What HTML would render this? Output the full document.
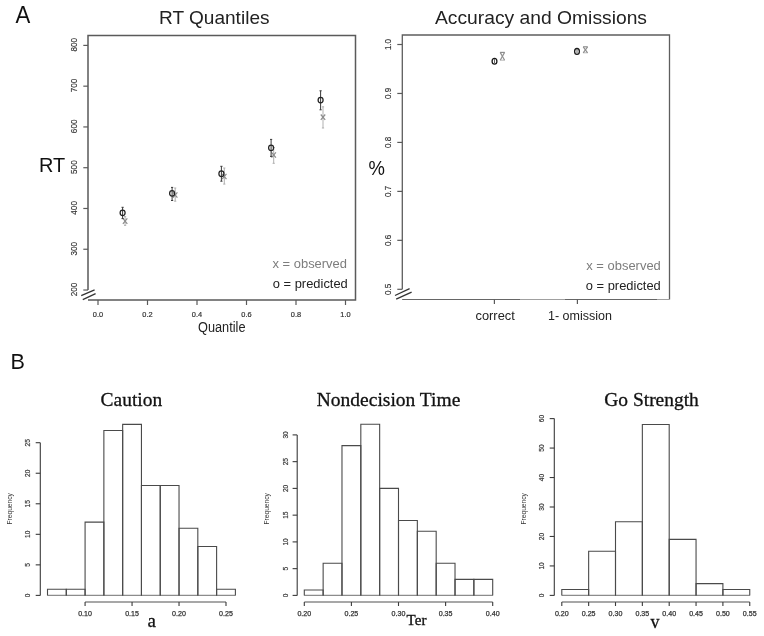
<!DOCTYPE html>
<html><head><meta charset="utf-8"><style>
html,body{margin:0;padding:0;background:#fff;}
body{width:764px;height:636px;overflow:hidden;font-family:"Liberation Sans",sans-serif;}
svg{display:block;will-change:transform;}
</style></head><body>
<svg width="764" height="636" viewBox="0 0 764 636" shape-rendering="geometricPrecision">
<rect width="764" height="636" fill="#fff"/>
<text x="15.40" y="22.80" font-family='"Liberation Sans", sans-serif' font-size="23.2" text-anchor="start" fill="#111" textLength="14.80" lengthAdjust="spacingAndGlyphs" >A</text>
<text x="10.60" y="369.10" font-family='"Liberation Sans", sans-serif' font-size="22.5" text-anchor="start" fill="#111" textLength="14.40" lengthAdjust="spacingAndGlyphs" >B</text>
<path d="M88.0,290 L88.0,35.5 L355.5,35.5 L355.5,300.0 L88.0,300.0" fill="none" stroke="#5a5a5a" stroke-width="1.5"/>
<line x1="83.30" y1="290.02" x2="88.00" y2="290.02" stroke="#5a5a5a" stroke-width="1.2" />
<text x="0" y="0" transform="translate(77.00,289.42) rotate(-90)" font-family='"Liberation Sans", sans-serif' font-size="9.2" text-anchor="middle" fill="#333" textLength="13.60" lengthAdjust="spacingAndGlyphs" stroke="#333" stroke-width="0.15">200</text>
<line x1="83.30" y1="249.25" x2="88.00" y2="249.25" stroke="#5a5a5a" stroke-width="1.2" />
<text x="0" y="0" transform="translate(77.00,248.65) rotate(-90)" font-family='"Liberation Sans", sans-serif' font-size="9.2" text-anchor="middle" fill="#333" textLength="13.60" lengthAdjust="spacingAndGlyphs" stroke="#333" stroke-width="0.15">300</text>
<line x1="83.30" y1="208.48" x2="88.00" y2="208.48" stroke="#5a5a5a" stroke-width="1.2" />
<text x="0" y="0" transform="translate(77.00,207.88) rotate(-90)" font-family='"Liberation Sans", sans-serif' font-size="9.2" text-anchor="middle" fill="#333" textLength="13.60" lengthAdjust="spacingAndGlyphs" stroke="#333" stroke-width="0.15">400</text>
<line x1="83.30" y1="167.71" x2="88.00" y2="167.71" stroke="#5a5a5a" stroke-width="1.2" />
<text x="0" y="0" transform="translate(77.00,167.11) rotate(-90)" font-family='"Liberation Sans", sans-serif' font-size="9.2" text-anchor="middle" fill="#333" textLength="13.60" lengthAdjust="spacingAndGlyphs" stroke="#333" stroke-width="0.15">500</text>
<line x1="83.30" y1="126.94" x2="88.00" y2="126.94" stroke="#5a5a5a" stroke-width="1.2" />
<text x="0" y="0" transform="translate(77.00,126.34) rotate(-90)" font-family='"Liberation Sans", sans-serif' font-size="9.2" text-anchor="middle" fill="#333" textLength="13.60" lengthAdjust="spacingAndGlyphs" stroke="#333" stroke-width="0.15">600</text>
<line x1="83.30" y1="86.17" x2="88.00" y2="86.17" stroke="#5a5a5a" stroke-width="1.2" />
<text x="0" y="0" transform="translate(77.00,85.57) rotate(-90)" font-family='"Liberation Sans", sans-serif' font-size="9.2" text-anchor="middle" fill="#333" textLength="13.60" lengthAdjust="spacingAndGlyphs" stroke="#333" stroke-width="0.15">700</text>
<line x1="83.30" y1="45.40" x2="88.00" y2="45.40" stroke="#5a5a5a" stroke-width="1.2" />
<text x="0" y="0" transform="translate(77.00,44.80) rotate(-90)" font-family='"Liberation Sans", sans-serif' font-size="9.2" text-anchor="middle" fill="#333" textLength="13.60" lengthAdjust="spacingAndGlyphs" stroke="#333" stroke-width="0.15">800</text>
<polygon points="80,296 96,289 97,294 81,301" fill="#fff"/>
<line x1="81.20" y1="295.60" x2="94.60" y2="289.90" stroke="#333" stroke-width="1.3" />
<line x1="82.80" y1="299.60" x2="95.60" y2="293.70" stroke="#333" stroke-width="1.3" />
<line x1="98.00" y1="300.00" x2="98.00" y2="305.00" stroke="#5a5a5a" stroke-width="1.2" />
<text x="98.00" y="317.00" font-family='"Liberation Sans", sans-serif' font-size="7.5" text-anchor="middle" fill="#333" textLength="10.30" lengthAdjust="spacingAndGlyphs" stroke="#333" stroke-width="0.2">0.0</text>
<line x1="147.50" y1="300.00" x2="147.50" y2="305.00" stroke="#5a5a5a" stroke-width="1.2" />
<text x="147.50" y="317.00" font-family='"Liberation Sans", sans-serif' font-size="7.5" text-anchor="middle" fill="#333" textLength="10.30" lengthAdjust="spacingAndGlyphs" stroke="#333" stroke-width="0.2">0.2</text>
<line x1="197.00" y1="300.00" x2="197.00" y2="305.00" stroke="#5a5a5a" stroke-width="1.2" />
<text x="197.00" y="317.00" font-family='"Liberation Sans", sans-serif' font-size="7.5" text-anchor="middle" fill="#333" textLength="10.30" lengthAdjust="spacingAndGlyphs" stroke="#333" stroke-width="0.2">0.4</text>
<line x1="246.50" y1="300.00" x2="246.50" y2="305.00" stroke="#5a5a5a" stroke-width="1.2" />
<text x="246.50" y="317.00" font-family='"Liberation Sans", sans-serif' font-size="7.5" text-anchor="middle" fill="#333" textLength="10.30" lengthAdjust="spacingAndGlyphs" stroke="#333" stroke-width="0.2">0.6</text>
<line x1="296.00" y1="300.00" x2="296.00" y2="305.00" stroke="#5a5a5a" stroke-width="1.2" />
<text x="296.00" y="317.00" font-family='"Liberation Sans", sans-serif' font-size="7.5" text-anchor="middle" fill="#333" textLength="10.30" lengthAdjust="spacingAndGlyphs" stroke="#333" stroke-width="0.2">0.8</text>
<line x1="345.50" y1="300.00" x2="345.50" y2="305.00" stroke="#5a5a5a" stroke-width="1.2" />
<text x="345.50" y="317.00" font-family='"Liberation Sans", sans-serif' font-size="7.5" text-anchor="middle" fill="#333" textLength="10.30" lengthAdjust="spacingAndGlyphs" stroke="#333" stroke-width="0.2">1.0</text>
<text x="198.00" y="331.80" font-family='"Liberation Sans", sans-serif' font-size="13.8" text-anchor="start" fill="#222" textLength="47.50" lengthAdjust="spacingAndGlyphs" >Quantile</text>
<text x="38.90" y="171.90" font-family='"Liberation Sans", sans-serif' font-size="19.5" text-anchor="start" fill="#111" textLength="26.20" lengthAdjust="spacingAndGlyphs" >RT</text>
<text x="159.00" y="23.80" font-family='"Liberation Sans", sans-serif' font-size="19" text-anchor="start" fill="#222" textLength="110.50" lengthAdjust="spacingAndGlyphs" >RT Quantiles</text>
<text x="347.00" y="268.00" font-family='"Liberation Sans", sans-serif' font-size="13.6" text-anchor="end" fill="#7d7d7d" textLength="74.50" lengthAdjust="spacingAndGlyphs" >x = observed</text>
<text x="347.80" y="287.70" font-family='"Liberation Sans", sans-serif' font-size="13.6" text-anchor="end" fill="#222" textLength="75.00" lengthAdjust="spacingAndGlyphs" >o = predicted</text>
<line x1="125.10" y1="216.60" x2="125.10" y2="225.40" stroke="#a8a8a8" stroke-width="0.9" />
<line x1="124.00" y1="216.60" x2="126.20" y2="216.60" stroke="#a8a8a8" stroke-width="0.9" />
<line x1="124.00" y1="225.40" x2="126.20" y2="225.40" stroke="#a8a8a8" stroke-width="0.9" />
<line x1="122.90" y1="218.40" x2="127.30" y2="223.80" stroke="#8c8c8c" stroke-width="1.2" />
<line x1="122.90" y1="223.80" x2="127.30" y2="218.40" stroke="#8c8c8c" stroke-width="1.2" />
<line x1="122.60" y1="207.30" x2="122.60" y2="218.60" stroke="#3a3a3a" stroke-width="1.0" />
<line x1="121.50" y1="207.30" x2="123.70" y2="207.30" stroke="#3a3a3a" stroke-width="1.0" />
<line x1="121.50" y1="218.60" x2="123.70" y2="218.60" stroke="#3a3a3a" stroke-width="1.0" />
<ellipse cx="122.6" cy="212.8" rx="2.5" ry="2.8" fill="none" stroke="#222" stroke-width="1.25"/>
<line x1="175.20" y1="188.00" x2="175.20" y2="201.20" stroke="#a8a8a8" stroke-width="0.9" />
<line x1="174.10" y1="188.00" x2="176.30" y2="188.00" stroke="#a8a8a8" stroke-width="0.9" />
<line x1="174.10" y1="201.20" x2="176.30" y2="201.20" stroke="#a8a8a8" stroke-width="0.9" />
<line x1="173.00" y1="192.30" x2="177.40" y2="197.70" stroke="#8c8c8c" stroke-width="1.2" />
<line x1="173.00" y1="197.70" x2="177.40" y2="192.30" stroke="#8c8c8c" stroke-width="1.2" />
<line x1="172.10" y1="187.40" x2="172.10" y2="200.50" stroke="#3a3a3a" stroke-width="1.0" />
<line x1="171.00" y1="187.40" x2="173.20" y2="187.40" stroke="#3a3a3a" stroke-width="1.0" />
<line x1="171.00" y1="200.50" x2="173.20" y2="200.50" stroke="#3a3a3a" stroke-width="1.0" />
<ellipse cx="172.1" cy="193.3" rx="2.5" ry="2.8" fill="none" stroke="#222" stroke-width="1.25"/>
<line x1="224.30" y1="168.00" x2="224.30" y2="184.10" stroke="#a8a8a8" stroke-width="0.9" />
<line x1="223.20" y1="168.00" x2="225.40" y2="168.00" stroke="#a8a8a8" stroke-width="0.9" />
<line x1="223.20" y1="184.10" x2="225.40" y2="184.10" stroke="#a8a8a8" stroke-width="0.9" />
<line x1="222.10" y1="173.80" x2="226.50" y2="179.20" stroke="#8c8c8c" stroke-width="1.2" />
<line x1="222.10" y1="179.20" x2="226.50" y2="173.80" stroke="#8c8c8c" stroke-width="1.2" />
<line x1="221.40" y1="166.30" x2="221.40" y2="181.20" stroke="#3a3a3a" stroke-width="1.0" />
<line x1="220.30" y1="166.30" x2="222.50" y2="166.30" stroke="#3a3a3a" stroke-width="1.0" />
<line x1="220.30" y1="181.20" x2="222.50" y2="181.20" stroke="#3a3a3a" stroke-width="1.0" />
<ellipse cx="221.4" cy="173.7" rx="2.5" ry="2.8" fill="none" stroke="#222" stroke-width="1.25"/>
<line x1="273.70" y1="147.50" x2="273.70" y2="163.30" stroke="#a8a8a8" stroke-width="0.9" />
<line x1="272.60" y1="147.50" x2="274.80" y2="147.50" stroke="#a8a8a8" stroke-width="0.9" />
<line x1="272.60" y1="163.30" x2="274.80" y2="163.30" stroke="#a8a8a8" stroke-width="0.9" />
<line x1="271.50" y1="152.30" x2="275.90" y2="157.70" stroke="#8c8c8c" stroke-width="1.2" />
<line x1="271.50" y1="157.70" x2="275.90" y2="152.30" stroke="#8c8c8c" stroke-width="1.2" />
<line x1="271.10" y1="139.40" x2="271.10" y2="156.40" stroke="#3a3a3a" stroke-width="1.0" />
<line x1="270.00" y1="139.40" x2="272.20" y2="139.40" stroke="#3a3a3a" stroke-width="1.0" />
<line x1="270.00" y1="156.40" x2="272.20" y2="156.40" stroke="#3a3a3a" stroke-width="1.0" />
<ellipse cx="271.1" cy="147.8" rx="2.5" ry="2.8" fill="none" stroke="#222" stroke-width="1.25"/>
<line x1="323.00" y1="106.80" x2="323.00" y2="128.00" stroke="#a8a8a8" stroke-width="0.9" />
<line x1="321.90" y1="106.80" x2="324.10" y2="106.80" stroke="#a8a8a8" stroke-width="0.9" />
<line x1="321.90" y1="128.00" x2="324.10" y2="128.00" stroke="#a8a8a8" stroke-width="0.9" />
<line x1="320.80" y1="114.50" x2="325.20" y2="119.90" stroke="#8c8c8c" stroke-width="1.2" />
<line x1="320.80" y1="119.90" x2="325.20" y2="114.50" stroke="#8c8c8c" stroke-width="1.2" />
<line x1="320.60" y1="90.80" x2="320.60" y2="109.80" stroke="#3a3a3a" stroke-width="1.0" />
<line x1="319.50" y1="90.80" x2="321.70" y2="90.80" stroke="#3a3a3a" stroke-width="1.0" />
<line x1="319.50" y1="109.80" x2="321.70" y2="109.80" stroke="#3a3a3a" stroke-width="1.0" />
<ellipse cx="320.6" cy="100.1" rx="2.5" ry="2.8" fill="none" stroke="#222" stroke-width="1.25"/>
<path d="M402.3,289.3 L402.3,35.0 L669.5,35.0 L669.5,299.5" fill="none" stroke="#5e5e5e" stroke-width="1.3"/>
<line x1="402.30" y1="299.50" x2="669.50" y2="299.50" stroke="#a0a0a0" stroke-width="1.0" />
<line x1="402.30" y1="299.50" x2="520.00" y2="299.50" stroke="#666" stroke-width="1.2" />
<line x1="565.00" y1="299.50" x2="657.00" y2="299.50" stroke="#666" stroke-width="1.2" />
<line x1="397.30" y1="289.30" x2="402.30" y2="289.30" stroke="#5a5a5a" stroke-width="1.2" />
<text x="0" y="0" transform="translate(391.00,289.30) rotate(-90)" font-family='"Liberation Sans", sans-serif' font-size="9.2" text-anchor="middle" fill="#333" textLength="11.20" lengthAdjust="spacingAndGlyphs" stroke="#333" stroke-width="0.15">0.5</text>
<line x1="397.30" y1="240.34" x2="402.30" y2="240.34" stroke="#5a5a5a" stroke-width="1.2" />
<text x="0" y="0" transform="translate(391.00,240.34) rotate(-90)" font-family='"Liberation Sans", sans-serif' font-size="9.2" text-anchor="middle" fill="#333" textLength="11.20" lengthAdjust="spacingAndGlyphs" stroke="#333" stroke-width="0.15">0.6</text>
<line x1="397.30" y1="191.38" x2="402.30" y2="191.38" stroke="#5a5a5a" stroke-width="1.2" />
<text x="0" y="0" transform="translate(391.00,191.38) rotate(-90)" font-family='"Liberation Sans", sans-serif' font-size="9.2" text-anchor="middle" fill="#333" textLength="11.20" lengthAdjust="spacingAndGlyphs" stroke="#333" stroke-width="0.15">0.7</text>
<line x1="397.30" y1="142.42" x2="402.30" y2="142.42" stroke="#5a5a5a" stroke-width="1.2" />
<text x="0" y="0" transform="translate(391.00,142.42) rotate(-90)" font-family='"Liberation Sans", sans-serif' font-size="9.2" text-anchor="middle" fill="#333" textLength="11.20" lengthAdjust="spacingAndGlyphs" stroke="#333" stroke-width="0.15">0.8</text>
<line x1="397.30" y1="93.46" x2="402.30" y2="93.46" stroke="#5a5a5a" stroke-width="1.2" />
<text x="0" y="0" transform="translate(391.00,93.46) rotate(-90)" font-family='"Liberation Sans", sans-serif' font-size="9.2" text-anchor="middle" fill="#333" textLength="11.20" lengthAdjust="spacingAndGlyphs" stroke="#333" stroke-width="0.15">0.9</text>
<line x1="397.30" y1="44.50" x2="402.30" y2="44.50" stroke="#5a5a5a" stroke-width="1.2" />
<text x="0" y="0" transform="translate(391.00,44.50) rotate(-90)" font-family='"Liberation Sans", sans-serif' font-size="9.2" text-anchor="middle" fill="#333" textLength="11.20" lengthAdjust="spacingAndGlyphs" stroke="#333" stroke-width="0.15">1.0</text>
<polygon points="394,296 410,288 412,293 396,301" fill="#fff"/>
<line x1="395.00" y1="295.50" x2="409.60" y2="288.70" stroke="#333" stroke-width="1.3" />
<line x1="396.20" y1="299.10" x2="411.60" y2="292.20" stroke="#333" stroke-width="1.3" />
<line x1="494.40" y1="299.50" x2="494.40" y2="304.00" stroke="#5a5a5a" stroke-width="1.2" />
<line x1="577.40" y1="299.50" x2="577.40" y2="304.00" stroke="#5a5a5a" stroke-width="1.2" />
<text x="475.50" y="319.70" font-family='"Liberation Sans", sans-serif' font-size="13.6" text-anchor="start" fill="#222" textLength="39.30" lengthAdjust="spacingAndGlyphs" >correct</text>
<text x="548.00" y="319.70" font-family='"Liberation Sans", sans-serif' font-size="13.6" text-anchor="start" fill="#222" textLength="64.00" lengthAdjust="spacingAndGlyphs" >1- omission</text>
<text x="368.40" y="175.00" font-family='"Liberation Sans", sans-serif' font-size="19.8" text-anchor="start" fill="#111" textLength="16.40" lengthAdjust="spacingAndGlyphs" >%</text>
<text x="435.00" y="24.20" font-family='"Liberation Sans", sans-serif' font-size="19" text-anchor="start" fill="#222" textLength="212.00" lengthAdjust="spacingAndGlyphs" >Accuracy and Omissions</text>
<text x="660.80" y="270.20" font-family='"Liberation Sans", sans-serif' font-size="13.6" text-anchor="end" fill="#7d7d7d" textLength="74.50" lengthAdjust="spacingAndGlyphs" >x = observed</text>
<text x="660.80" y="289.90" font-family='"Liberation Sans", sans-serif' font-size="13.6" text-anchor="end" fill="#222" textLength="75.00" lengthAdjust="spacingAndGlyphs" >o = predicted</text>
<line x1="500.10" y1="52.40" x2="504.70" y2="52.40" stroke="#8e8e8e" stroke-width="1.2" />
<line x1="500.30" y1="60.20" x2="504.50" y2="60.20" stroke="#b0b0b0" stroke-width="0.9" />
<line x1="500.20" y1="52.40" x2="504.60" y2="60.20" stroke="#8e8e8e" stroke-width="1.15" />
<line x1="500.20" y1="60.20" x2="504.60" y2="52.40" stroke="#8e8e8e" stroke-width="1.15" />
<line x1="494.50" y1="59.20" x2="494.50" y2="63.20" stroke="#555" stroke-width="0.9" />
<ellipse cx="494.5" cy="61.2" rx="2.4" ry="2.9" fill="none" stroke="#1a1a1a" stroke-width="1.3"/>
<line x1="583.10" y1="46.80" x2="587.70" y2="46.80" stroke="#8e8e8e" stroke-width="1.2" />
<line x1="583.30" y1="52.80" x2="587.50" y2="52.80" stroke="#b0b0b0" stroke-width="0.9" />
<line x1="583.20" y1="46.80" x2="587.60" y2="52.80" stroke="#8e8e8e" stroke-width="1.15" />
<line x1="583.20" y1="52.80" x2="587.60" y2="46.80" stroke="#8e8e8e" stroke-width="1.15" />
<line x1="577.00" y1="49.40" x2="577.00" y2="53.40" stroke="#555" stroke-width="0.9" />
<ellipse cx="577.0" cy="51.4" rx="2.4" ry="2.9" fill="none" stroke="#1a1a1a" stroke-width="1.3"/>
<line x1="40.30" y1="442.70" x2="40.30" y2="595.40" stroke="#3a3a3a" stroke-width="1.1" />
<line x1="35.70" y1="595.40" x2="40.30" y2="595.40" stroke="#3a3a3a" stroke-width="1.1" />
<text x="0" y="0" transform="translate(30.30,595.40) rotate(-90)" font-family='"Liberation Sans", sans-serif' font-size="7.8" text-anchor="middle" fill="#333" textLength="3.70" lengthAdjust="spacingAndGlyphs" stroke="#333" stroke-width="0.2">0</text>
<line x1="35.70" y1="564.86" x2="40.30" y2="564.86" stroke="#3a3a3a" stroke-width="1.1" />
<text x="0" y="0" transform="translate(30.30,564.86) rotate(-90)" font-family='"Liberation Sans", sans-serif' font-size="7.8" text-anchor="middle" fill="#333" textLength="3.70" lengthAdjust="spacingAndGlyphs" stroke="#333" stroke-width="0.2">5</text>
<line x1="35.70" y1="534.32" x2="40.30" y2="534.32" stroke="#3a3a3a" stroke-width="1.1" />
<text x="0" y="0" transform="translate(30.30,534.32) rotate(-90)" font-family='"Liberation Sans", sans-serif' font-size="7.8" text-anchor="middle" fill="#333" textLength="7.40" lengthAdjust="spacingAndGlyphs" stroke="#333" stroke-width="0.2">10</text>
<line x1="35.70" y1="503.78" x2="40.30" y2="503.78" stroke="#3a3a3a" stroke-width="1.1" />
<text x="0" y="0" transform="translate(30.30,503.78) rotate(-90)" font-family='"Liberation Sans", sans-serif' font-size="7.8" text-anchor="middle" fill="#333" textLength="7.40" lengthAdjust="spacingAndGlyphs" stroke="#333" stroke-width="0.2">15</text>
<line x1="35.70" y1="473.24" x2="40.30" y2="473.24" stroke="#3a3a3a" stroke-width="1.1" />
<text x="0" y="0" transform="translate(30.30,473.24) rotate(-90)" font-family='"Liberation Sans", sans-serif' font-size="7.8" text-anchor="middle" fill="#333" textLength="7.40" lengthAdjust="spacingAndGlyphs" stroke="#333" stroke-width="0.2">20</text>
<line x1="35.70" y1="442.70" x2="40.30" y2="442.70" stroke="#3a3a3a" stroke-width="1.1" />
<text x="0" y="0" transform="translate(30.30,442.70) rotate(-90)" font-family='"Liberation Sans", sans-serif' font-size="7.8" text-anchor="middle" fill="#333" textLength="7.40" lengthAdjust="spacingAndGlyphs" stroke="#333" stroke-width="0.2">25</text>
<text x="0" y="0" transform="translate(12.20,508.80) rotate(-90)" font-family='"Liberation Sans", sans-serif' font-size="6.8" text-anchor="middle" fill="#333" textLength="31.50" lengthAdjust="spacingAndGlyphs" >Frequency</text>
<line x1="47.50" y1="595.40" x2="235.40" y2="595.40" stroke="#8c8c8c" stroke-width="1.2" />
<path d="M47.50,595.40 V589.29 H66.29 V595.40" fill="none" stroke="#4a4a4a" stroke-width="1.1"/>
<path d="M66.29,595.40 V589.29 H85.08 V595.40" fill="none" stroke="#4a4a4a" stroke-width="1.1"/>
<path d="M85.08,595.40 V522.10 H103.87 V595.40" fill="none" stroke="#4a4a4a" stroke-width="1.1"/>
<path d="M103.87,595.40 V430.48 H122.66 V595.40" fill="none" stroke="#4a4a4a" stroke-width="1.1"/>
<path d="M122.66,595.40 V424.38 H141.45 V595.40" fill="none" stroke="#4a4a4a" stroke-width="1.1"/>
<path d="M141.45,595.40 V485.46 H160.24 V595.40" fill="none" stroke="#4a4a4a" stroke-width="1.1"/>
<path d="M160.24,595.40 V485.46 H179.03 V595.40" fill="none" stroke="#4a4a4a" stroke-width="1.1"/>
<path d="M179.03,595.40 V528.21 H197.82 V595.40" fill="none" stroke="#4a4a4a" stroke-width="1.1"/>
<path d="M197.82,595.40 V546.54 H216.61 V595.40" fill="none" stroke="#4a4a4a" stroke-width="1.1"/>
<path d="M216.61,595.40 V589.29 H235.40 V595.40" fill="none" stroke="#4a4a4a" stroke-width="1.1"/>
<line x1="85.08" y1="602.10" x2="226.00" y2="602.10" stroke="#8a8a8a" stroke-width="1.5" />
<line x1="85.08" y1="602.10" x2="85.08" y2="606.00" stroke="#3a3a3a" stroke-width="1.1" />
<text x="85.08" y="616.10" font-family='"Liberation Sans", sans-serif' font-size="7.0" text-anchor="middle" fill="#333" textLength="13.80" lengthAdjust="spacingAndGlyphs" stroke="#333" stroke-width="0.25">0.10</text>
<line x1="132.06" y1="602.10" x2="132.06" y2="606.00" stroke="#3a3a3a" stroke-width="1.1" />
<text x="132.06" y="616.10" font-family='"Liberation Sans", sans-serif' font-size="7.0" text-anchor="middle" fill="#333" textLength="13.80" lengthAdjust="spacingAndGlyphs" stroke="#333" stroke-width="0.25">0.15</text>
<line x1="179.03" y1="602.10" x2="179.03" y2="606.00" stroke="#3a3a3a" stroke-width="1.1" />
<text x="179.03" y="616.10" font-family='"Liberation Sans", sans-serif' font-size="7.0" text-anchor="middle" fill="#333" textLength="13.80" lengthAdjust="spacingAndGlyphs" stroke="#333" stroke-width="0.25">0.20</text>
<line x1="226.00" y1="602.10" x2="226.00" y2="606.00" stroke="#3a3a3a" stroke-width="1.1" />
<text x="226.00" y="616.10" font-family='"Liberation Sans", sans-serif' font-size="7.0" text-anchor="middle" fill="#333" textLength="13.80" lengthAdjust="spacingAndGlyphs" stroke="#333" stroke-width="0.25">0.25</text>
<text x="100.60" y="405.50" font-family='"Liberation Serif", serif' font-size="19" text-anchor="start" fill="#111" textLength="61.50" lengthAdjust="spacingAndGlyphs" stroke="#111" stroke-width="0.3">Caution</text>
<text x="147.60" y="626.60" font-family='"Liberation Serif", serif' font-size="19" text-anchor="start" fill="#111" textLength="8.40" lengthAdjust="spacingAndGlyphs" stroke="#111" stroke-width="0.3">a</text>
<line x1="297.20" y1="434.90" x2="297.20" y2="595.40" stroke="#3a3a3a" stroke-width="1.1" />
<line x1="292.60" y1="595.40" x2="297.20" y2="595.40" stroke="#3a3a3a" stroke-width="1.1" />
<text x="0" y="0" transform="translate(288.00,595.40) rotate(-90)" font-family='"Liberation Sans", sans-serif' font-size="7.8" text-anchor="middle" fill="#333" textLength="3.70" lengthAdjust="spacingAndGlyphs" stroke="#333" stroke-width="0.2">0</text>
<line x1="292.60" y1="568.65" x2="297.20" y2="568.65" stroke="#3a3a3a" stroke-width="1.1" />
<text x="0" y="0" transform="translate(288.00,568.65) rotate(-90)" font-family='"Liberation Sans", sans-serif' font-size="7.8" text-anchor="middle" fill="#333" textLength="3.70" lengthAdjust="spacingAndGlyphs" stroke="#333" stroke-width="0.2">5</text>
<line x1="292.60" y1="541.90" x2="297.20" y2="541.90" stroke="#3a3a3a" stroke-width="1.1" />
<text x="0" y="0" transform="translate(288.00,541.90) rotate(-90)" font-family='"Liberation Sans", sans-serif' font-size="7.8" text-anchor="middle" fill="#333" textLength="7.40" lengthAdjust="spacingAndGlyphs" stroke="#333" stroke-width="0.2">10</text>
<line x1="292.60" y1="515.15" x2="297.20" y2="515.15" stroke="#3a3a3a" stroke-width="1.1" />
<text x="0" y="0" transform="translate(288.00,515.15) rotate(-90)" font-family='"Liberation Sans", sans-serif' font-size="7.8" text-anchor="middle" fill="#333" textLength="7.40" lengthAdjust="spacingAndGlyphs" stroke="#333" stroke-width="0.2">15</text>
<line x1="292.60" y1="488.40" x2="297.20" y2="488.40" stroke="#3a3a3a" stroke-width="1.1" />
<text x="0" y="0" transform="translate(288.00,488.40) rotate(-90)" font-family='"Liberation Sans", sans-serif' font-size="7.8" text-anchor="middle" fill="#333" textLength="7.40" lengthAdjust="spacingAndGlyphs" stroke="#333" stroke-width="0.2">20</text>
<line x1="292.60" y1="461.65" x2="297.20" y2="461.65" stroke="#3a3a3a" stroke-width="1.1" />
<text x="0" y="0" transform="translate(288.00,461.65) rotate(-90)" font-family='"Liberation Sans", sans-serif' font-size="7.8" text-anchor="middle" fill="#333" textLength="7.40" lengthAdjust="spacingAndGlyphs" stroke="#333" stroke-width="0.2">25</text>
<line x1="292.60" y1="434.90" x2="297.20" y2="434.90" stroke="#3a3a3a" stroke-width="1.1" />
<text x="0" y="0" transform="translate(288.00,434.90) rotate(-90)" font-family='"Liberation Sans", sans-serif' font-size="7.8" text-anchor="middle" fill="#333" textLength="7.40" lengthAdjust="spacingAndGlyphs" stroke="#333" stroke-width="0.2">30</text>
<text x="0" y="0" transform="translate(268.60,508.80) rotate(-90)" font-family='"Liberation Sans", sans-serif' font-size="6.8" text-anchor="middle" fill="#333" textLength="31.50" lengthAdjust="spacingAndGlyphs" >Frequency</text>
<line x1="304.30" y1="595.40" x2="492.70" y2="595.40" stroke="#8c8c8c" stroke-width="1.2" />
<path d="M304.30,595.40 V590.05 H323.14 V595.40" fill="none" stroke="#4a4a4a" stroke-width="1.1"/>
<path d="M323.14,595.40 V563.30 H341.98 V595.40" fill="none" stroke="#4a4a4a" stroke-width="1.1"/>
<path d="M341.98,595.40 V445.60 H360.82 V595.40" fill="none" stroke="#4a4a4a" stroke-width="1.1"/>
<path d="M360.82,595.40 V424.20 H379.66 V595.40" fill="none" stroke="#4a4a4a" stroke-width="1.1"/>
<path d="M379.66,595.40 V488.40 H398.50 V595.40" fill="none" stroke="#4a4a4a" stroke-width="1.1"/>
<path d="M398.50,595.40 V520.50 H417.34 V595.40" fill="none" stroke="#4a4a4a" stroke-width="1.1"/>
<path d="M417.34,595.40 V531.20 H436.18 V595.40" fill="none" stroke="#4a4a4a" stroke-width="1.1"/>
<path d="M436.18,595.40 V563.30 H455.02 V595.40" fill="none" stroke="#4a4a4a" stroke-width="1.1"/>
<path d="M455.02,595.40 V579.35 H473.86 V595.40" fill="none" stroke="#4a4a4a" stroke-width="1.1"/>
<path d="M473.86,595.40 V579.35 H492.70 V595.40" fill="none" stroke="#4a4a4a" stroke-width="1.1"/>
<line x1="304.30" y1="602.10" x2="492.70" y2="602.10" stroke="#8a8a8a" stroke-width="1.5" />
<line x1="304.30" y1="602.10" x2="304.30" y2="606.00" stroke="#3a3a3a" stroke-width="1.1" />
<text x="304.30" y="616.10" font-family='"Liberation Sans", sans-serif' font-size="7.0" text-anchor="middle" fill="#333" textLength="13.80" lengthAdjust="spacingAndGlyphs" stroke="#333" stroke-width="0.25">0.20</text>
<line x1="351.40" y1="602.10" x2="351.40" y2="606.00" stroke="#3a3a3a" stroke-width="1.1" />
<text x="351.40" y="616.10" font-family='"Liberation Sans", sans-serif' font-size="7.0" text-anchor="middle" fill="#333" textLength="13.80" lengthAdjust="spacingAndGlyphs" stroke="#333" stroke-width="0.25">0.25</text>
<line x1="398.50" y1="602.10" x2="398.50" y2="606.00" stroke="#3a3a3a" stroke-width="1.1" />
<text x="398.50" y="616.10" font-family='"Liberation Sans", sans-serif' font-size="7.0" text-anchor="middle" fill="#333" textLength="13.80" lengthAdjust="spacingAndGlyphs" stroke="#333" stroke-width="0.25">0.30</text>
<line x1="445.60" y1="602.10" x2="445.60" y2="606.00" stroke="#3a3a3a" stroke-width="1.1" />
<text x="445.60" y="616.10" font-family='"Liberation Sans", sans-serif' font-size="7.0" text-anchor="middle" fill="#333" textLength="13.80" lengthAdjust="spacingAndGlyphs" stroke="#333" stroke-width="0.25">0.35</text>
<line x1="492.70" y1="602.10" x2="492.70" y2="606.00" stroke="#3a3a3a" stroke-width="1.1" />
<text x="492.70" y="616.10" font-family='"Liberation Sans", sans-serif' font-size="7.0" text-anchor="middle" fill="#333" textLength="13.80" lengthAdjust="spacingAndGlyphs" stroke="#333" stroke-width="0.25">0.40</text>
<text x="316.80" y="405.50" font-family='"Liberation Serif", serif' font-size="19" text-anchor="start" fill="#111" textLength="143.50" lengthAdjust="spacingAndGlyphs" stroke="#111" stroke-width="0.3">Nondecision Time</text>
<text x="406.60" y="624.80" font-family='"Liberation Serif", serif' font-size="13.8" text-anchor="start" fill="#111" textLength="19.80" lengthAdjust="spacingAndGlyphs" stroke="#111" stroke-width="0.3">Ter</text>
<line x1="554.30" y1="418.60" x2="554.30" y2="595.40" stroke="#3a3a3a" stroke-width="1.1" />
<line x1="549.70" y1="595.40" x2="554.30" y2="595.40" stroke="#3a3a3a" stroke-width="1.1" />
<text x="0" y="0" transform="translate(544.00,595.40) rotate(-90)" font-family='"Liberation Sans", sans-serif' font-size="7.8" text-anchor="middle" fill="#333" textLength="3.70" lengthAdjust="spacingAndGlyphs" stroke="#333" stroke-width="0.2">0</text>
<line x1="549.70" y1="565.93" x2="554.30" y2="565.93" stroke="#3a3a3a" stroke-width="1.1" />
<text x="0" y="0" transform="translate(544.00,565.93) rotate(-90)" font-family='"Liberation Sans", sans-serif' font-size="7.8" text-anchor="middle" fill="#333" textLength="7.40" lengthAdjust="spacingAndGlyphs" stroke="#333" stroke-width="0.2">10</text>
<line x1="549.70" y1="536.47" x2="554.30" y2="536.47" stroke="#3a3a3a" stroke-width="1.1" />
<text x="0" y="0" transform="translate(544.00,536.47) rotate(-90)" font-family='"Liberation Sans", sans-serif' font-size="7.8" text-anchor="middle" fill="#333" textLength="7.40" lengthAdjust="spacingAndGlyphs" stroke="#333" stroke-width="0.2">20</text>
<line x1="549.70" y1="507.00" x2="554.30" y2="507.00" stroke="#3a3a3a" stroke-width="1.1" />
<text x="0" y="0" transform="translate(544.00,507.00) rotate(-90)" font-family='"Liberation Sans", sans-serif' font-size="7.8" text-anchor="middle" fill="#333" textLength="7.40" lengthAdjust="spacingAndGlyphs" stroke="#333" stroke-width="0.2">30</text>
<line x1="549.70" y1="477.53" x2="554.30" y2="477.53" stroke="#3a3a3a" stroke-width="1.1" />
<text x="0" y="0" transform="translate(544.00,477.53) rotate(-90)" font-family='"Liberation Sans", sans-serif' font-size="7.8" text-anchor="middle" fill="#333" textLength="7.40" lengthAdjust="spacingAndGlyphs" stroke="#333" stroke-width="0.2">40</text>
<line x1="549.70" y1="448.07" x2="554.30" y2="448.07" stroke="#3a3a3a" stroke-width="1.1" />
<text x="0" y="0" transform="translate(544.00,448.07) rotate(-90)" font-family='"Liberation Sans", sans-serif' font-size="7.8" text-anchor="middle" fill="#333" textLength="7.40" lengthAdjust="spacingAndGlyphs" stroke="#333" stroke-width="0.2">50</text>
<line x1="549.70" y1="418.60" x2="554.30" y2="418.60" stroke="#3a3a3a" stroke-width="1.1" />
<text x="0" y="0" transform="translate(544.00,418.60) rotate(-90)" font-family='"Liberation Sans", sans-serif' font-size="7.8" text-anchor="middle" fill="#333" textLength="7.40" lengthAdjust="spacingAndGlyphs" stroke="#333" stroke-width="0.2">60</text>
<text x="0" y="0" transform="translate(525.70,508.80) rotate(-90)" font-family='"Liberation Sans", sans-serif' font-size="6.8" text-anchor="middle" fill="#333" textLength="31.50" lengthAdjust="spacingAndGlyphs" >Frequency</text>
<line x1="561.80" y1="595.40" x2="749.75" y2="595.40" stroke="#8c8c8c" stroke-width="1.2" />
<path d="M561.80,595.40 V589.51 H588.65 V595.40" fill="none" stroke="#4a4a4a" stroke-width="1.1"/>
<path d="M588.65,595.40 V551.20 H615.50 V595.40" fill="none" stroke="#4a4a4a" stroke-width="1.1"/>
<path d="M615.50,595.40 V521.73 H642.35 V595.40" fill="none" stroke="#4a4a4a" stroke-width="1.1"/>
<path d="M642.35,595.40 V424.49 H669.20 V595.40" fill="none" stroke="#4a4a4a" stroke-width="1.1"/>
<path d="M669.20,595.40 V539.41 H696.05 V595.40" fill="none" stroke="#4a4a4a" stroke-width="1.1"/>
<path d="M696.05,595.40 V583.61 H722.90 V595.40" fill="none" stroke="#4a4a4a" stroke-width="1.1"/>
<path d="M722.90,595.40 V589.51 H749.75 V595.40" fill="none" stroke="#4a4a4a" stroke-width="1.1"/>
<line x1="561.80" y1="602.10" x2="749.75" y2="602.10" stroke="#8a8a8a" stroke-width="1.5" />
<line x1="561.80" y1="602.10" x2="561.80" y2="606.00" stroke="#3a3a3a" stroke-width="1.1" />
<text x="561.80" y="616.10" font-family='"Liberation Sans", sans-serif' font-size="7.0" text-anchor="middle" fill="#333" textLength="13.80" lengthAdjust="spacingAndGlyphs" stroke="#333" stroke-width="0.25">0.20</text>
<line x1="588.65" y1="602.10" x2="588.65" y2="606.00" stroke="#3a3a3a" stroke-width="1.1" />
<text x="588.65" y="616.10" font-family='"Liberation Sans", sans-serif' font-size="7.0" text-anchor="middle" fill="#333" textLength="13.80" lengthAdjust="spacingAndGlyphs" stroke="#333" stroke-width="0.25">0.25</text>
<line x1="615.50" y1="602.10" x2="615.50" y2="606.00" stroke="#3a3a3a" stroke-width="1.1" />
<text x="615.50" y="616.10" font-family='"Liberation Sans", sans-serif' font-size="7.0" text-anchor="middle" fill="#333" textLength="13.80" lengthAdjust="spacingAndGlyphs" stroke="#333" stroke-width="0.25">0.30</text>
<line x1="642.35" y1="602.10" x2="642.35" y2="606.00" stroke="#3a3a3a" stroke-width="1.1" />
<text x="642.35" y="616.10" font-family='"Liberation Sans", sans-serif' font-size="7.0" text-anchor="middle" fill="#333" textLength="13.80" lengthAdjust="spacingAndGlyphs" stroke="#333" stroke-width="0.25">0.35</text>
<line x1="669.20" y1="602.10" x2="669.20" y2="606.00" stroke="#3a3a3a" stroke-width="1.1" />
<text x="669.20" y="616.10" font-family='"Liberation Sans", sans-serif' font-size="7.0" text-anchor="middle" fill="#333" textLength="13.80" lengthAdjust="spacingAndGlyphs" stroke="#333" stroke-width="0.25">0.40</text>
<line x1="696.05" y1="602.10" x2="696.05" y2="606.00" stroke="#3a3a3a" stroke-width="1.1" />
<text x="696.05" y="616.10" font-family='"Liberation Sans", sans-serif' font-size="7.0" text-anchor="middle" fill="#333" textLength="13.80" lengthAdjust="spacingAndGlyphs" stroke="#333" stroke-width="0.25">0.45</text>
<line x1="722.90" y1="602.10" x2="722.90" y2="606.00" stroke="#3a3a3a" stroke-width="1.1" />
<text x="722.90" y="616.10" font-family='"Liberation Sans", sans-serif' font-size="7.0" text-anchor="middle" fill="#333" textLength="13.80" lengthAdjust="spacingAndGlyphs" stroke="#333" stroke-width="0.25">0.50</text>
<line x1="749.75" y1="602.10" x2="749.75" y2="606.00" stroke="#3a3a3a" stroke-width="1.1" />
<text x="749.75" y="616.10" font-family='"Liberation Sans", sans-serif' font-size="7.0" text-anchor="middle" fill="#333" textLength="13.80" lengthAdjust="spacingAndGlyphs" stroke="#333" stroke-width="0.25">0.55</text>
<text x="604.30" y="405.50" font-family='"Liberation Serif", serif' font-size="19" text-anchor="start" fill="#111" textLength="94.50" lengthAdjust="spacingAndGlyphs" stroke="#111" stroke-width="0.3">Go Strength</text>
<text x="650.40" y="627.70" font-family='"Liberation Serif", serif' font-size="19" text-anchor="start" fill="#111" textLength="9.00" lengthAdjust="spacingAndGlyphs" stroke="#111" stroke-width="0.3">v</text>
</svg>
</body></html>
